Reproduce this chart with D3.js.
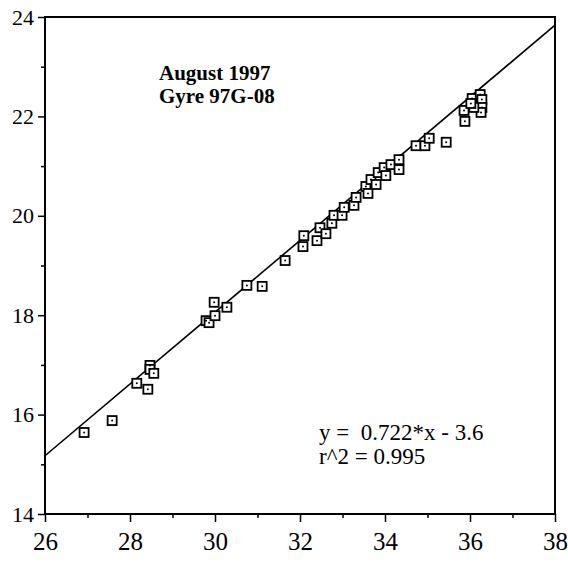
<!DOCTYPE html>
<html>
<head>
<meta charset="utf-8">
<script src="https://cdn.jsdelivr.net/npm/d3@7"></script>
<style>
html,body{margin:0;padding:0;background:#fff;}
svg text{font-family:"Liberation Serif","Times New Roman",serif;fill:#000;}
</style>
</head>
<body>
<svg id="chart" width="568" height="562"></svg>
<script>
const xValues = [26.92,27.58,28.16,28.42,28.47,28.47,28.56,29.79,29.86,30.0,29.98,30.28,30.75,31.11,31.65,
  32.07,32.09,32.40,32.47,32.61,32.75,32.80,32.99,33.04,33.27,33.32,33.55,33.60,33.67,33.79,33.84,33.98,34.02,
  34.14,34.33,34.33,34.73,34.94,35.04,35.44,35.86,35.88,36.05,36.24,36.28,36.28,36.26,36.09,36.02];
const yValues = [15.64,15.88,16.63,16.51,16.99,16.91,16.83,17.89,17.85,17.99,18.26,18.16,18.60,18.58,19.10,
  19.38,19.60,19.50,19.76,19.64,19.85,20.01,20.01,20.17,20.21,20.37,20.59,20.45,20.73,20.63,20.87,20.97,20.81,
  21.03,21.13,20.93,21.41,21.41,21.56,21.48,22.12,21.90,22.36,22.44,22.34,22.18,22.08,22.18,22.26];
const xTicks = [26,28,30,32,34,36,38];
const yTicks = [14,16,18,20,22,24];
const xMinor = [27,29,31,33,35,37];
const yMinor = [15,17,19,21,23];
const slope = 0.722, intercept = -3.6, r2 = 0.995;
const titleLines = ["August 1997","Gyre 97G-08"];
const fitLines = ["y =  0.722*x - 3.6","r^2 = 0.995"];

const svg = d3.select("#chart");
const L = 45, R = 555, T = 17, B = 514;
const x = d3.scaleLinear().domain([26,38]).range([L,R]);
const y = d3.scaleLinear().domain([14,24]).range([B,T]);

// frame
svg.append("rect").attr("x",L).attr("y",T).attr("width",R-L).attr("height",B-T)
  .attr("fill","none").attr("stroke","#000").attr("stroke-width",2);

// axes
const xAxis = svg.append("g").attr("transform",`translate(0,${B})`)
  .call(d3.axisBottom(x).tickValues(xTicks).tickSize(8).tickPadding(10).tickFormat(d3.format("d")));
const xAxisMinor = svg.append("g").attr("transform",`translate(0,${B})`)
  .call(d3.axisBottom(x).tickValues(xMinor).tickSize(4).tickFormat(""));
const yAxis = svg.append("g").attr("transform",`translate(${L},0)`)
  .call(d3.axisLeft(y).tickValues(yTicks).tickSize(7).tickPadding(4).tickFormat(d3.format("d")));
const yAxisMinor = svg.append("g").attr("transform",`translate(${L},0)`)
  .call(d3.axisLeft(y).tickValues(yMinor).tickSize(4).tickFormat(""));
[xAxis,xAxisMinor,yAxis,yAxisMinor].forEach(g=>{
  g.select(".domain").remove();
  g.selectAll("line").attr("stroke","#000").attr("stroke-width",1.5);
  g.selectAll("text").attr("font-family","Liberation Serif, serif").attr("fill","#000");
});
xAxis.selectAll("text").attr("font-size",25);
yAxis.selectAll("text").attr("font-size",22);

// regression line
svg.append("line")
  .attr("x1",x(26)).attr("y1",y(slope*26+intercept))
  .attr("x2",x(38)).attr("y2",y(slope*38+intercept))
  .attr("stroke","#000").attr("stroke-width",1.6);

// points
const pts = xValues.map((v,i)=>({x:v,y:yValues[i]}));
const s = 9;
const g = svg.append("g");
g.selectAll("rect").data(pts).enter().append("rect")
  .attr("x",d=>x(d.x)-s/2).attr("y",d=>y(d.y)-s/2)
  .attr("width",s).attr("height",s)
  .attr("fill","#fff").attr("stroke","#000").attr("stroke-width",1.8);
g.selectAll("circle").data(pts).enter().append("circle")
  .attr("cx",d=>x(d.x)).attr("cy",d=>y(d.y)).attr("r",1).attr("fill","#000");

// title
svg.selectAll("text.title").data(titleLines).enter().append("text")
  .attr("class","title").attr("x",159).attr("y",(d,i)=>80+i*23)
  .attr("font-size",21).attr("font-weight","bold").text(d=>d);

// fit text
svg.selectAll("text.fit").data(fitLines).enter().append("text")
  .attr("class","fit").attr("x",319).attr("y",(d,i)=>440+i*24)
  .attr("font-size",23).style("white-space","pre").attr("xml:space","preserve").text(d=>d);
</script>
</body>
</html>
